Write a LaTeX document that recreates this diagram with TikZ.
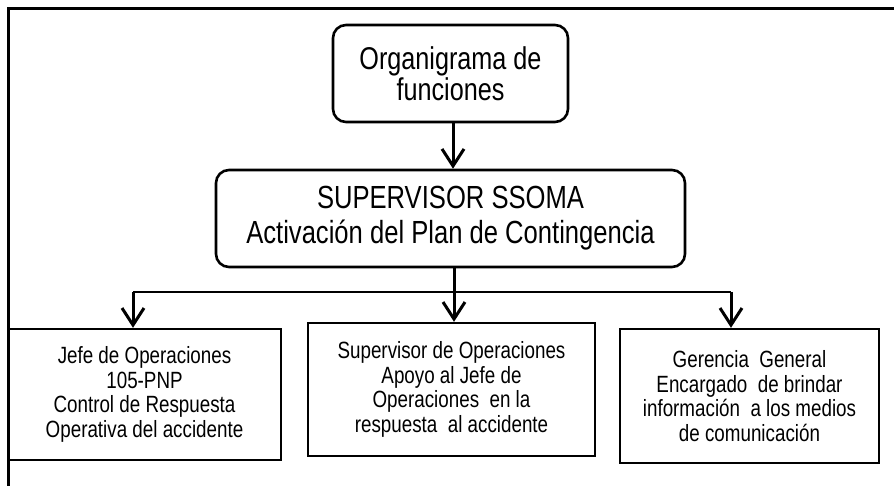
\documentclass[tikz,border=0pt]{standalone}
\usepackage{fontspec}
\usetikzlibrary{arrows.meta}
\newfontfamily\narsans[FakeStretch=0.8]{Liberation Sans}
\tikzset{
  roundbox/.style={draw, line width=2.6pt, rounded corners=13pt, inner sep=0pt, align=center, anchor=center},
  plainbox/.style={draw, line width=2.4pt, inner sep=0pt, align=center, anchor=center,
    font={\narsans\fontsize{23.5}{24.5}\selectfont}},
  conn/.style={line width=3pt, -{Straight Barb[length=17pt,width=22pt,line width=3pt]}},
  hline/.style={line width=2.6pt},
  frameline/.style={line width=3pt}
}
\begin{document}
\begin{tikzpicture}[x=1pt,y=-1pt]
\useasboundingbox (0,0) rectangle (894,486);
% frame
\coordinate (fr) at (894,9);
\coordinate (fc) at (8,9);
\coordinate (fb) at (8,486);
\draw[frameline] (fr) -- (fc) -- (fb);
% nodes
\node[roundbox, minimum width=235pt, minimum height=97pt,
  font={\narsans\fontsize{31.5}{31}\selectfont}] (b1) at (450.5,73.5)
  {Organigrama de\\funciones};
\node[roundbox, minimum width=469pt, minimum height=97pt,
  font={\narsans\fontsize{32}{35}\selectfont}] (b2) at (450.5,218.5)
  {SUPERVISOR SSOMA\\Activación del Plan de Contingencia};
\node[plainbox, minimum width=273pt, minimum height=131pt] (l) at (144.5,394.5)
  {Jefe de Operaciones\\105-PNP\\Control de Respuesta\\Operativa del accidente};
\node[plainbox, minimum width=287pt, minimum height=133pt] (m) at (451.5,389.5)
  {Supervisor de Operaciones\\Apoyo al Jefe de\\Operaciones~ en la\\respuesta~ al accidente};
\node[plainbox, minimum width=259pt, minimum height=134pt] (r) at (749.5,396)
  {Gerencia~ General\\Encargado~ de brindar\\información~ a los medios\\de comunicación};
% connectors
\coordinate (hl) at (133,292);
\coordinate (hr) at (731,292);
\draw[conn] ([xshift=2.5pt]b1.south) -- ([xshift=2.5pt]b2.north);
\draw[hline] (hl) -- (hr);
\draw[conn] ([xshift=3.5pt]b2.south) -- ([xshift=3.5pt]b2.south |- m.north);
\draw[conn] (hl) -- (hl |- l.north);
\draw[conn] (hr) -- (hr |- r.north);
\end{tikzpicture}
\end{document}
